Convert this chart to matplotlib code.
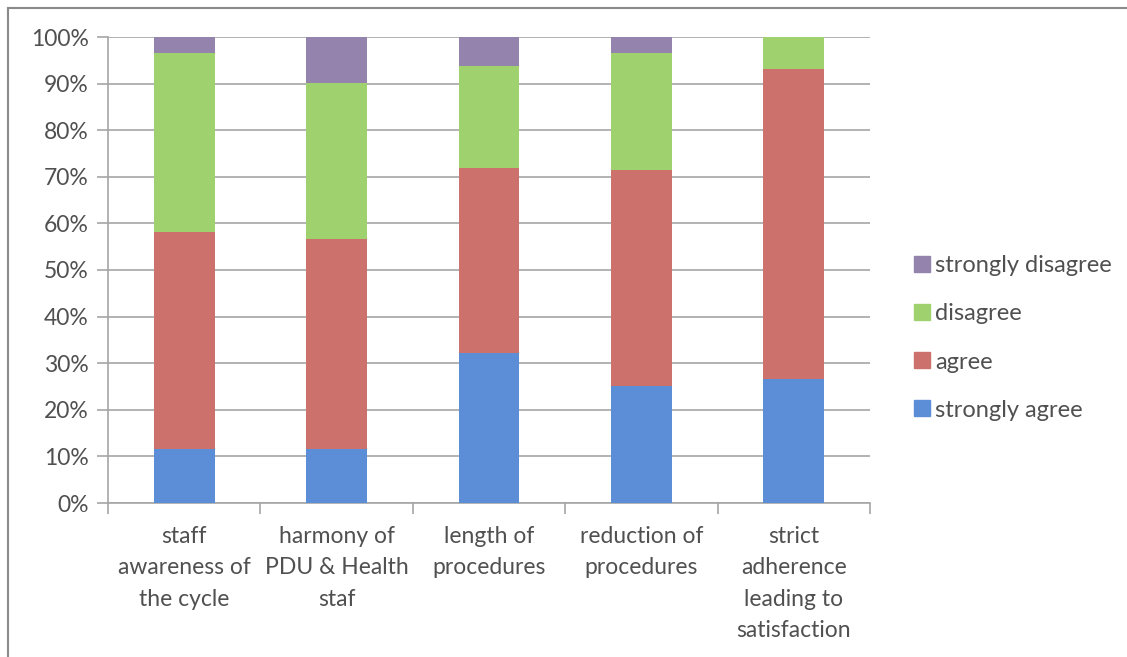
import matplotlib
matplotlib.use("Agg")
import matplotlib.pyplot as plt
from matplotlib.lines import Line2D
import numpy as np

categories = ["staff\nawareness of\nthe cycle", "harmony of\nPDU & Health\nstaf",
              "length of\nprocedures", "reduction of\nprocedures",
              "strict\nadherence\nleading to\nsatisfaction"]
series = ["strongly agree", "agree", "disagree", "strongly disagree"]
strongly_agree = [11.6, 11.6, 32.2, 25.1, 26.6]
agree = [46.6, 45.1, 39.7, 46.4, 66.5]
disagree = [38.4, 33.4, 21.9, 25.1, 6.9]
strongly_disagree = [3.4, 9.9, 6.2, 3.4, 0.0]
values = [strongly_agree, agree, disagree, strongly_disagree]
colors = ["#5b8ed6", "#cd716c", "#9fd26f", "#9383ad"]
yticks = [0, 10, 20, 30, 40, 50, 60, 70, 80, 90, 100]

plt.rcParams["font.family"] = ["Lato", "DejaVu Sans"]
txt = "#505050"
grid = "#a6a6a6"

fig = plt.figure(figsize=(11.27, 6.57), dpi=100)
ax = fig.add_axes([108/1127, 1-503/657, (870-108)/1127, (503-37)/657])

x = np.arange(len(categories))
bottom = np.zeros(len(categories))
for name, vals, c in zip(series, values, colors):
    ax.bar(x, vals, width=0.4, bottom=bottom, color=c, label=name, zorder=3)
    bottom += np.array(vals)

ax.set_xlim(-0.5, len(categories) - 0.5)
ax.set_ylim(0, 100)
ax.set_yticks(yticks)
ax.set_yticklabels([f"{v}%" for v in yticks], fontsize=16.5, color=txt)
ax.yaxis.grid(True, color=grid, lw=1.2, zorder=0)
ax.tick_params(axis="y", length=8, color=grid, width=1.2, pad=6)

# category labels centred under bars, ticks between categories
ax.set_xticks(np.arange(len(categories) + 1) - 0.5)
ax.set_xticklabels([])
ax.tick_params(axis="x", length=8, color=grid, width=1.2)
for xi, lab in zip(x, categories):
    ax.text(xi, -5.0, lab, ha="center", va="top", fontsize=16.5, color=txt,
            linespacing=1.6)

for s in ["top", "right"]:
    ax.spines[s].set_visible(False)
for s in ["left", "bottom"]:
    ax.spines[s].set_color(grid)
    ax.spines[s].set_linewidth(1.2)

handles = [Line2D([], [], marker="s", ls="none", markersize=11, color=c)
           for c in colors[::-1]]
fig.legend(handles, series[::-1], loc="center left",
           bbox_to_anchor=(889/1127, 1-338/657), frameon=False, fontsize=17,
           labelcolor=txt, handletextpad=0.05, labelspacing=1.15, handlelength=1)

# chart area border (left and top only, rest cropped in the scan)
fig.add_artist(Line2D([8/1127, 8/1127], [0, 1-8/657], color="#8a8a8a", lw=1.5))
fig.add_artist(Line2D([8/1127, 1], [1-8/657, 1-8/657], color="#8a8a8a", lw=1.5))

fig.savefig("out.png", dpi=100)
